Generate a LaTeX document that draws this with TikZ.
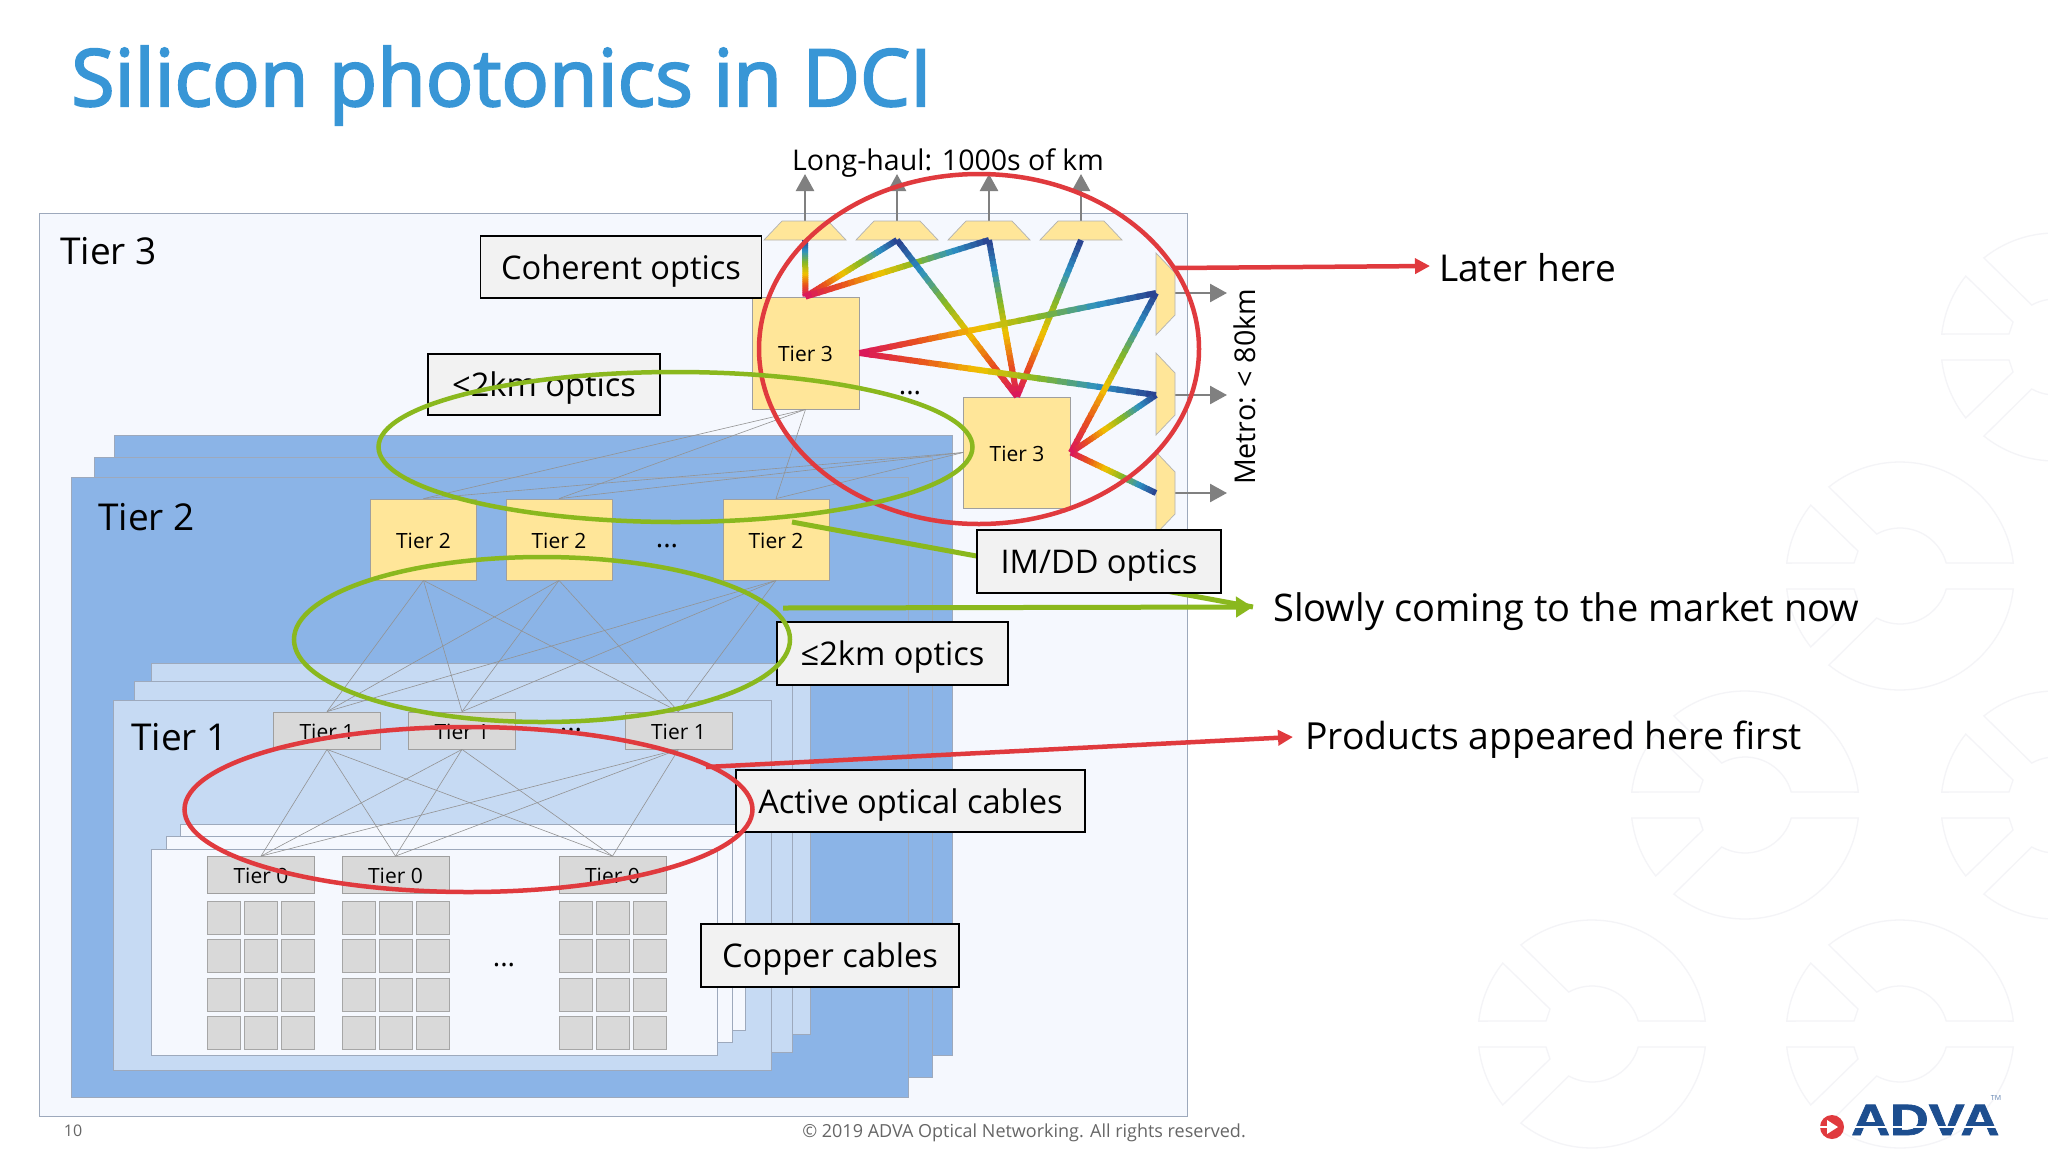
\documentclass[tikz,border=0pt]{standalone}
\usepackage{fontspec}
\setmainfont{Open Sans}
\newfontfamily\titlefont[FakeBold=2.6]{Open Sans}
\newfontfamily\logofont[FakeBold=1.5]{Liberation Sans Bold}
\usetikzlibrary{arrows.meta,calc}

\definecolor{titleblue}{HTML}{3896D6}
\definecolor{panelwhite}{HTML}{F5F8FE}
\definecolor{panelblue}{HTML}{8BB4E7}
\definecolor{panellight}{HTML}{C6DAF3}
\definecolor{panelline}{HTML}{9DA9BC}
\definecolor{boxyellow}{HTML}{FFE699}
\definecolor{boxgray}{HTML}{D9D9D9}
\definecolor{labelgray}{HTML}{F2F2F2}
\definecolor{ringred}{HTML}{E03A3E}
\definecolor{ringgreen}{HTML}{8AB81E}
\definecolor{wmark}{HTML}{F4F4F7}
\definecolor{logoblue}{HTML}{1D4E8F}
\definecolor{rbA}{HTML}{D9145F}
\definecolor{rbB}{HTML}{E8501E}
\definecolor{rbC}{HTML}{F2C200}
\definecolor{rbD}{HTML}{86B824}
\definecolor{rbE}{HTML}{2C92C4}
\definecolor{rbF}{HTML}{2A3E8E}

\tikzset{
	panel/.style={draw=panelline,line width=0.9pt},
	tierbox/.style={draw=gray!75,line width=0.8pt,fill=boxyellow,inner sep=0pt,text height=17.4pt,text depth=0pt,font=\fontsize{21}{25}\selectfont},
	serverbox/.style={tierbox,fill=boxgray,minimum width=107,minimum height=37},
	cellbox/.style={draw=gray!70,line width=0.8pt,fill=boxgray},
	meshline/.style={draw=gray!85,line width=0.6pt},
	muxbox/.style={draw=gray!60,line width=0.7pt,fill=boxyellow},
	grayarrow/.style={draw=gray,line width=2.5pt,-{Triangle[length=17pt,width=18pt]}},
	rainbowseg/.style={line width=6pt},
	labelbox/.style={draw=black,line width=1.8pt,fill=labelgray,inner sep=0pt,text height=30pt,text depth=6pt,font=\fontsize{32.6}{40}\selectfont},
	redring/.style={draw=ringred,line width=4.5pt},
	greenring/.style={draw=ringgreen,line width=4.5pt},
	redarrow/.style={draw=ringred,line width=4.5pt,-{Triangle[length=15pt,width=15pt]}},
	greenarrow/.style={draw=ringgreen,line width=5pt,-{Triangle[length=17pt,width=20pt]}},
	callout/.style={inner sep=0pt,anchor=base west,font=\fontsize{38}{46}\selectfont},
	tierlabel/.style={inner sep=0pt,anchor=base west,font=\fontsize{37}{44}\selectfont},
	dotlabel/.style={inner sep=0pt,anchor=base,font=\fontsize{28}{32}\selectfont}
}

% one rainbow fibre, red at the first end and navy at the second
\newcommand{\rainbowfibre}[2]{%
	\foreach \ca/\cb [count=\k from 0] in {rbA/rbB,rbB/rbC,rbC/rbD,rbD/rbE,rbE/rbF}{%
		\foreach \s in {0,...,5}{%
			\pgfmathsetmacro{\ta}{(\k+\s/6)/5}\pgfmathsetmacro{\tb}{min((\k+(\s+1.3)/6)/5,1)}\pgfmathsetmacro{\pct}{(\s+0.5)/6*100}%
			\draw[rainbowseg,color=\cb!\pct!\ca] ($(#1)!\ta!(#2)$) -- ($(#1)!\tb!(#2)$);
		}%
	}%
}

\begin{document}
\begin{tikzpicture}[x=1pt,y=-1pt]
	\useasboundingbox (0,0) rectangle (2048,1152);
	\fill[white] (0,0) rectangle (2048,1152);
	
	% watermark
	\foreach \cx/\cy in {1900/576,1745/805,1592/1034,1900/1034,2055/805,2055/347}{
		\foreach \m in {1,-1}{
			\begin{scope}[shift={(\cx,\cy)},y=\m pt,draw=wmark,line width=1.3pt]
				\draw (128.6:114) arc[start angle=128.6,end angle=6.5,radius=114] -- (15.8:48) arc[start angle=15.8,end angle=119,radius=48] -- cycle;
				\draw (141.5:114) arc[start angle=141.5,end angle=173.5,radius=114] -- (-46,13) -- (-42,25) -- cycle;
			\end{scope}
		}
	}
	
	\node[inner sep=0pt,anchor=base west,text=titleblue,font=\titlefont\fontsize{79}{90}\selectfont] (title) at (71,106) {Silicon photonics in DCI};
	
	% nested panels
	\draw[panel,fill=panelwhite] (39,213) rectangle (1187,1116);
	\draw[panel,fill=panelblue] (114,435) rectangle (952,1055);
	\draw[panel,fill=panelblue] (94,457) rectangle (932,1077);
	\draw[panel,fill=panelblue] (71,477) rectangle (908,1097);
	\draw[panel,fill=panellight] (151,663) rectangle (810,1034);
	\draw[panel,fill=panellight] (134,681) rectangle (792,1052);
	\draw[panel,fill=panellight] (113,700) rectangle (771,1070);
	\draw[panel,fill=panelwhite] (180,824) rectangle (745,1030);
	\draw[panel,fill=panelwhite] (166,836) rectangle (732,1042);
	\draw[panel,fill=panelwhite] (151,849) rectangle (717,1055);
	
	\node[tierlabel] (lbl3) at (60,264) {Tier 3}; \node[tierlabel] (lbl2) at (98,530) {Tier 2}; \node[tierlabel] (lbl1) at (131,750) {Tier 1};
	
	\node[tierbox,minimum width=107,minimum height=112] (tthreea) at (805.5,353) {Tier 3};
	\node[tierbox,minimum width=107,minimum height=111] (tthreeb) at (1017,452.5) {Tier 3};
	\node[tierbox,minimum width=106,minimum height=81] (ttwoa) at (423.5,539.5) {Tier 2};
	\node[tierbox,minimum width=106,minimum height=81] (ttwob) at (559,539.5) {Tier 2};
	\node[tierbox,minimum width=106,minimum height=81] (ttwoc) at (776,539.5) {Tier 2};
	\node[serverbox] (tonea) at (327,730.5) {Tier 1}; \node[serverbox] (toneb) at (462,730.5) {Tier 1}; \node[serverbox] (tonec) at (678.5,730.5) {Tier 1};
	\node[serverbox] (tzeroa) at (261,875) {Tier 0}; \node[serverbox] (tzerob) at (395.5,875) {Tier 0}; \node[serverbox] (tzeroc) at (612.5,875) {Tier 0};
	
	\foreach \a in {a,b,c}{
		\foreach \b in {a,b,c}{
			\draw[meshline] (ttwo\a.south) -- (tone\b.north);
			\draw[meshline] (tone\a.south) -- (tzero\b.north);
		}
		\draw[meshline] (tthreea.south) -- (ttwo\a.north);
		\draw[meshline] (tthreeb.west) -- (ttwo\a.north);
	}
	
	% server racks
	\foreach \x in {207.5,342,559}{
		\foreach \d in {0,37,74}{
			\foreach \y in {901,939,978,1016}{
				\draw[cellbox] (\x+\d,\y) rectangle +(33,33);
			}
		}
	}
	
	\node[dotlabel] (dots3) at (910,394) {...}; \node[dotlabel] (dots2) at (667,547) {...}; \node[dotlabel] (dots1) at (571,731) {...}; \node[dotlabel] (dots0) at (504,966) {...};
	
	% long-haul mux row
	\foreach \n/\x in {1/805,2/897,3/989,4/1081}{
		\coordinate (lh\n) at (\x,240); \coordinate (lhtop\n) at (\x,174);
		\draw[grayarrow] (lh\n) -- (lhtop\n);
		\draw[muxbox] (\x-41,240) -- (\x-23,221) -- (\x+23,221) -- (\x+41,240) -- cycle;
	}
	
	% metro mux column
	\foreach \n/\y/\yy in {1/253/293,2/353/395,3/452/493}{
		\coordinate (mt\n) at (1156,\yy); \coordinate (mtout\n) at (1227,\yy);
		\draw[grayarrow] (mt\n) -- (mtout\n);
		\draw[muxbox] (1156,\y) -- (1175,\y+20) -- (1175,\y+62) -- (1156,\y+82) -- cycle;
	}
	
	\rainbowfibre{tthreea.north}{lh1} \rainbowfibre{tthreea.north}{lh2} \rainbowfibre{tthreea.north}{lh3}
	\rainbowfibre{tthreeb.north}{lh2} \rainbowfibre{tthreeb.north}{lh3} \rainbowfibre{tthreeb.north}{lh4}
	\rainbowfibre{tthreea.east}{mt1} \rainbowfibre{tthreea.east}{mt2}
	\rainbowfibre{tthreeb.east}{mt1} \rainbowfibre{tthreeb.east}{mt2} \rainbowfibre{tthreeb.east}{mt3}
	
	\node[inner sep=0pt,anchor=base,font=\fontsize{28.5}{36}\selectfont] (longhaul) at (948,170) {Long-haul: 1000s of km};
	\node[inner sep=0pt,rotate=90,font=\fontsize{28.6}{36}\selectfont] (metro) at (1245,387) {Metro: < 80km};
	
	% callout lines, green ones under the boxes
	\coordinate (gtip) at (1253,607); \coordinate (gstarta) at (792,522); \coordinate (gstartb) at (783,608);
	\draw[draw=ringgreen,line width=5pt] (gstarta) -- (gtip);
	\draw[greenarrow] (gstartb) -- (gtip);
	
	\node[labelbox,minimum width=281,minimum height=62] (coherent) at (621,267) {Coherent optics};
	\node[labelbox,minimum width=232,minimum height=61] (shortopt) at (544,384.5) {<2km optics};
	\node[labelbox,minimum width=244,minimum height=63] (imdd) at (1099,561.5) {IM/DD optics};
	\node[labelbox,minimum width=231,minimum height=63] (leqopt) at (892.5,653.5) {≤2km optics};
	\node[labelbox,minimum width=349,minimum height=62] (aoc) at (910.5,801) {Active optical cables};
	\node[labelbox,minimum width=258,minimum height=63] (copper) at (830,955.5) {Copper cables};
	
	\draw[redring] (979,349) ellipse[x radius=220,y radius=175];
	\draw[redring] (468.5,809.5) ellipse[x radius=284,y radius=82.5];
	\draw[greenring] (675.5,447) ellipse[x radius=297,y radius=75];
	\draw[greenring] (542,639.5) ellipse[x radius=248,y radius=82.5];
	
	\coordinate (rstarta) at (1174,268); \coordinate (rtipa) at (1430,266);
	\coordinate (rstartb) at (706,767); \coordinate (rtipb) at (1293,737);
	\draw[redarrow] (rstarta) -- (rtipa);
	\draw[redarrow] (rstartb) -- (rtipb);
	
	\node[callout,font=\fontsize{37}{46}\selectfont] (later) at (1439,281) {Later here};
	\node[callout] (slowly) at (1273,621) {Slowly coming to the market now};
	\node[callout,font=\fontsize{37.3}{46}\selectfont] (first) at (1305,749) {Products appeared here first};
	
	% footer
	\node[inner sep=0pt,text=black!60,font=\fontsize{16}{20}\selectfont] (pageno) at (73,1131) {10};
	\node[inner sep=0pt,text=black!60,font=\fontsize{18}{22}\selectfont] (rights) at (1024,1133) {© 2019 ADVA Optical Networking. All rights reserved.};
	
	% logo
	\fill[ringred] (1832,1127) circle (12);
	\draw[white,line width=2.5pt] (1819,1127) -- (1830,1127);
	\fill[white] (1827,1120) -- (1838,1127) -- (1827,1134) -- cycle;
	\node[inner sep=0pt,anchor=base west,text=logoblue,font=\logofont\fontsize{44}{48}\selectfont,xscale=1.22] (advalogo) at (1851,1135) {ADVA};
	\draw[white,line width=1.8pt] (1849,1127) -- (1998,1127);
	\node[inner sep=0pt,text=logoblue!70,font=\fontsize{7}{8}\selectfont] (tmmark) at (1996,1098) {TM};
\end{tikzpicture}
\end{document}
